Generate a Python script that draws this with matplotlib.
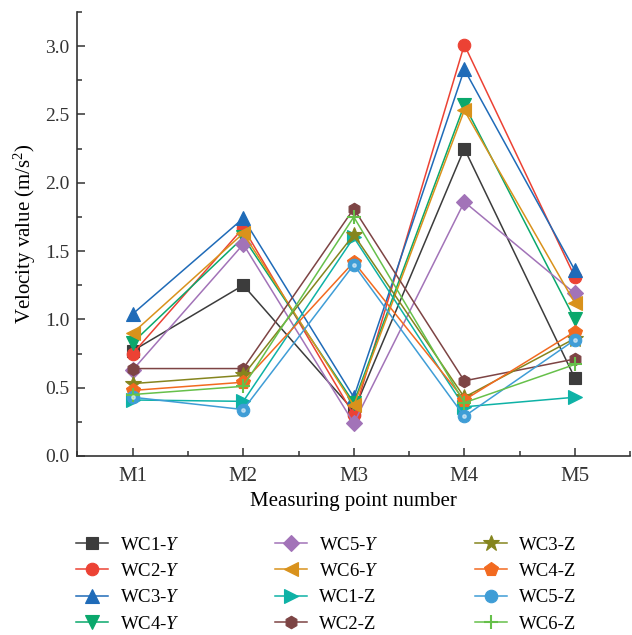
import matplotlib
matplotlib.use("Agg")
import matplotlib.pyplot as plt
from matplotlib.ticker import MultipleLocator

plt.rcParams.update({
    "font.family": "Liberation Serif",
    "mathtext.fontset": "custom",
    "mathtext.rm": "Liberation Serif",
    "mathtext.it": "Liberation Serif:italic",
    "font.size": 14,
})

# ==========================
# DATA
# ==========================
points = ["M1", "M2", "M3", "M4", "M5"]

wc1_y = [0.77, 1.25, 0.33, 2.25, 0.57]
wc2_y = [0.75, 1.67, 0.30, 3.01, 1.31]
wc3_y = [1.04, 1.74, 0.43, 2.83, 1.36]
wc4_y = [0.83, 1.60, 0.39, 2.57, 1.00]
wc5_y = [0.63, 1.55, 0.24, 1.86, 1.19]
wc6_y = [0.90, 1.63, 0.37, 2.53, 1.12]
wc1_z = [0.41, 0.40, 1.60, 0.36, 0.43]
wc2_z = [0.64, 0.64, 1.81, 0.55, 0.71]
wc3_z = [0.53, 0.59, 1.62, 0.43, 0.86]
wc4_z = [0.48, 0.54, 1.42, 0.41, 0.91]
wc5_z = [0.43, 0.34, 1.40, 0.29, 0.85]
wc6_z = [0.45, 0.51, 1.75, 0.39, 0.67]

series = [
    ("WC1-$Y$", wc1_y, "#3c3c3c", "s", 8),
    ("WC2-$Y$", wc2_y, "#ec4234", "o", 9),
    ("WC3-$Y$", wc3_y, "#1f6bb8", "^", 10),
    ("WC4-$Y$", wc4_y, "#0aa86c", "v", 10),
    ("WC5-$Y$", wc5_y, "#a273b8", "D", 8),
    ("WC6-$Y$", wc6_y, "#d9921c", "<", 10),
    ("WC1-Z", wc1_z, "#0eb2a6", ">", 10),
    ("WC2-Z", wc2_z, "#7d4444", "h", 9),
    ("WC3-Z", wc3_z, "#85851e", "*", 12),
    ("WC4-Z", wc4_z, "#f26a20", "p", 10),
    ("WC5-Z", wc5_z, "#3f9dd6", "o", 9),
    ("WC6-Z", wc6_z, "#66c04a", "+", 10),
]

# ==========================
# PLOT
# ==========================
fig = plt.figure(figsize=(6.32, 6.35), dpi=100)
ax = fig.add_axes([0.1226, 0.2819, 0.8744, 0.6992])

x = list(range(1, len(points) + 1))

for label, vals, color, marker, ms in series:
    ax.plot(
        x, vals,
        color=color,
        linewidth=1.1,
        marker=marker,
        markersize=ms,
        markeredgewidth=1.5 if marker == "+" else 0.8,
        label=label,
    )

# little highlight on the WC5-Z spheres
ax.plot(x, wc5_z, linestyle="none", marker="o", markersize=2.5,
        color="white", alpha=0.5, zorder=5)

ax.set_xlim(0.5, 5.5)
ax.set_ylim(0, 3.25)
ax.set_xticks(x)
ax.set_xticklabels(points)
ax.xaxis.set_minor_locator(MultipleLocator(0.5))
ax.yaxis.set_major_locator(MultipleLocator(0.5))
ax.yaxis.set_minor_locator(MultipleLocator(0.25))
ax.yaxis.set_major_formatter(matplotlib.ticker.FormatStrFormatter("%.1f"))

ax.spines["top"].set_visible(False)
ax.spines["right"].set_visible(False)
for s in ["left", "bottom"]:
    ax.spines[s].set_linewidth(1.2)
    ax.spines[s].set_color("#333333")

ax.tick_params(which="major", direction="in", length=6, width=1.1, labelsize=14, colors="#333333")
ax.tick_params(which="minor", direction="in", length=3.5, width=1.1, colors="#333333")
ax.tick_params(axis="x", which="major", pad=8, labelsize=15)
ax.tick_params(axis="y", which="major", pad=6)

ax.set_xlabel("Measuring point number", fontsize=15, labelpad=4)
ax.set_ylabel("Velocity value (m/s$^2$)", fontsize=15, labelpad=5)

fig.legend(
    loc="upper left",
    bbox_to_anchor=(0.108, 0.167),
    ncol=3,
    frameon=False,
    fontsize=13.5,
    handlelength=1.7,
    handletextpad=0.65,
    columnspacing=5.1,
    labelspacing=0.49,
    borderaxespad=0,
)

fig.savefig("out.png", dpi=100)
